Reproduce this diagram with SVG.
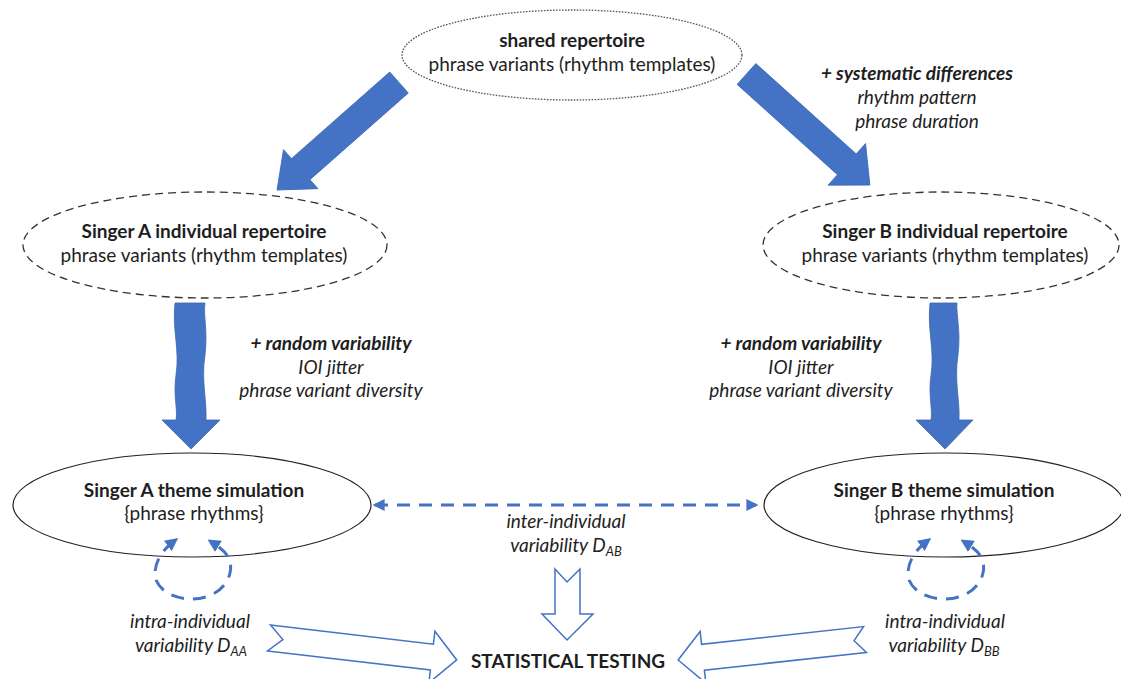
<svg xmlns="http://www.w3.org/2000/svg" width="1121" height="679" viewBox="0 0 1121 679">
<defs>
<style>
text{font-family:Lato,"Liberation Sans",sans-serif;font-size:19px;fill:#1e1e1e;text-anchor:middle}
.b{font-weight:bold}
.i{font-style:italic}
.bi{font-weight:bold;font-style:italic}
.sub{font-size:13px}
.node{fill:#fff}
.dot{stroke:#555;stroke-width:1.3;stroke-dasharray:1.6 1.4}
.dash{stroke:#333;stroke-width:1.3;stroke-dasharray:8 5}
.solid{stroke:#222;stroke-width:1.2}
.big{fill:#4472C4;stroke:#3d67b3;stroke-width:0.8}
.hollow{fill:#fff;stroke:#4472C4;stroke-width:1.5;stroke-linejoin:miter}
.blued{fill:none;stroke:#4472C4;stroke-width:3;stroke-dasharray:13 9}
</style>
<marker id="ah" viewBox="0 0 10 10" refX="8" refY="5" markerWidth="12" markerHeight="12" markerUnits="userSpaceOnUse" orient="auto-start-reverse">
<path d="M0,0 L10,5 L0,10 Z" fill="#4472C4"/>
</marker>
<marker id="ahc" viewBox="0 0 10 10" refX="5" refY="5" markerWidth="13" markerHeight="13" markerUnits="userSpaceOnUse" orient="auto-start-reverse">
<path d="M0,0 L10,5 L0,10 Z" fill="#4472C4"/>
</marker>
</defs>

<g id="shared">
<ellipse class="node dot" cx="572" cy="55" rx="170" ry="45"/>
<text class="b" x="572" y="47">shared repertoire</text>
<text x="572" y="71">phrase variants (rhythm templates)</text>
</g>

<g id="singerA-rep">
<ellipse class="node dash" cx="205" cy="245" rx="182" ry="53"/>
<text class="b" x="204" y="238">Singer A individual repertoire</text>
<text x="204" y="262">phrase variants (rhythm templates)</text>
</g>

<g id="singerB-rep">
<ellipse class="node dash" cx="941" cy="245" rx="178" ry="53"/>
<text class="b" x="945" y="238">Singer B individual repertoire</text>
<text x="945" y="262">phrase variants (rhythm templates)</text>
</g>

<g id="singerA-sim">
<ellipse class="node solid" cx="192" cy="505" rx="179" ry="52"/>
<text class="b" x="194" y="497">Singer A theme simulation</text>
<text x="194" y="520">{phrase rhythms}</text>
</g>

<g id="singerB-sim">
<ellipse class="node solid" cx="944" cy="505" rx="180" ry="52"/>
<text class="b" x="944" y="497">Singer B theme simulation</text>
<text x="944" y="520">{phrase rhythms}</text>
</g>

<g id="testing">
<text class="b" x="568" y="668">STATISTICAL TESTING</text>
</g>

<g id="connectors">
<polygon class="big" transform="translate(399,82.5) rotate(138.6)" points="0,-14 131,-14 131,-26 162.6,0 131,26 131,14 0,14"/>
<polygon class="big" transform="translate(746.5,74) rotate(42)" points="0,-14 135,-14 135,-28 166,0 135,28 135,14 0,14"/>
<path class="big" d="M175,303 C172,330 180,350 176,375 C173,395 178,410 176,420 L162,420 L191,449 L220,420 L206,420 C207,400 201,380 205,355 C208,330 203,315 205,303 Z"/>
<path class="big" d="M930,303 C927,330 935,350 931,375 C928,395 933,410 931,420 L916,420 L945,449 L973,420 L959,420 C960,400 954,380 958,355 C961,330 956,315 957,303 Z"/>
<line class="blued" x1="375" y1="505" x2="756" y2="505" marker-start="url(#ah)" marker-end="url(#ah)"/>
<path class="blued" d="M173,542 C161,551 152,566 156,580 C162,594 178,599 192,599 C209,599 226,590 230,573 C233,560 226,551 213,543" marker-start="url(#ahc)" marker-end="url(#ahc)"/>
<path class="blued" d="M926,542 C914,551 905,566 909,580 C915,594 931,599 945,599 C962,599 979,590 983,573 C986,560 979,551 966,543" marker-start="url(#ahc)" marker-end="url(#ahc)"/>
<polygon class="hollow" points="555,569 567,582 580,569 580,614 593,614 567,640 542,614 555,614"/>
<polygon class="hollow" transform="translate(269,638) rotate(6.67)" points="0,-13 164,-13 164,-26 189,0 164,26 164,13 0,13 14,0"/>
<polygon class="hollow" transform="translate(865,639.5) rotate(173.74)" points="0,-13 163,-13 163,-26 188,0 163,26 163,13 0,13 11,0"/>
</g>

<g id="labels">
<text class="bi" x="917" y="80">+ systematic differences</text>
<text class="i" x="917" y="104">rhythm pattern</text>
<text class="i" x="917" y="128">phrase duration</text>
<text class="bi" x="331" y="350">+ random variability</text>
<text class="i" x="331" y="374">IOI jitter</text>
<text class="i" x="331" y="397">phrase variant diversity</text>
<text class="bi" x="801" y="350">+ random variability</text>
<text class="i" x="801" y="374">IOI jitter</text>
<text class="i" x="801" y="397">phrase variant diversity</text>
<text class="i" x="566" y="528">inter-individual</text>
<text class="i" x="566" y="552">variability D<tspan class="sub" dy="4">AB</tspan></text>
<text class="i" x="190" y="628">intra-individual</text>
<text class="i" x="191" y="652">variability D<tspan class="sub" dy="4">AA</tspan></text>
<text class="i" x="945" y="628">intra-individual</text>
<text class="i" x="944" y="652">variability D<tspan class="sub" dy="4">BB</tspan></text>
</g>
</svg>
